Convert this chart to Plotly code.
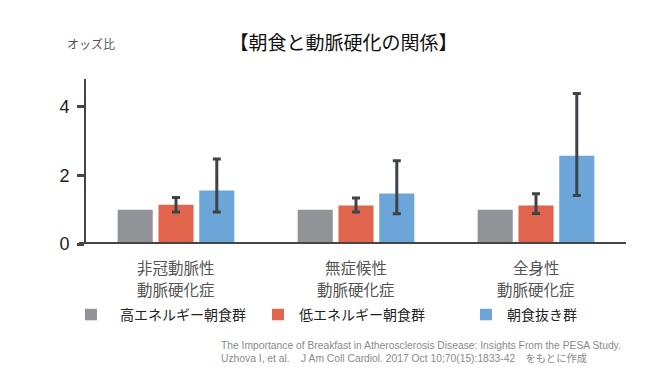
import plotly.graph_objects as go

# ---- data ----
categories = ["非冠動脈性<br>動脈硬化症", "無症候性<br>動脈硬化症", "全身性<br>動脈硬化症"]
series_names = ["高エネルギー朝食群", "低エネルギー朝食群", "朝食抜き群"]
high_energy = [1.0, 1.0, 1.0]
low_energy = [1.14, 1.12, 1.12]
low_energy_upper = [1.35, 1.34, 1.46]
low_energy_lower = [0.93, 0.93, 0.89]
skip = [1.56, 1.47, 2.57]
skip_upper = [2.47, 2.42, 4.38]
skip_lower = [0.93, 0.88, 1.41]
y_ticks = [0, 2, 4]

colors = ["#929396", "#e1644d", "#6ca5d8"]
err_color = "#3d4348"

W, H = 660, 382
L, R, T, B = 86, 34, 79, 137.5
PW, PH = W - L - R, H - T - B


def px_x(p):
    return (p - L) / PW


def px_y(q):
    return (H - B - q) / PH


fig = go.Figure()
fig.add_trace(go.Bar(x=categories, y=high_energy, name=series_names[0],
                     marker=dict(color=colors[0], line=dict(width=0)), showlegend=False))
fig.add_trace(go.Bar(x=categories, y=low_energy, name=series_names[1],
                     marker=dict(color=colors[1], line=dict(width=0)), showlegend=False,
                     error_y=dict(type="data", symmetric=False,
                                  array=[u - v for u, v in zip(low_energy_upper, low_energy)],
                                  arrayminus=[v - l for v, l in zip(low_energy, low_energy_lower)],
                                  color=err_color, thickness=3, width=4)))
fig.add_trace(go.Bar(x=categories, y=skip, name=series_names[2],
                     marker=dict(color=colors[2], line=dict(width=0)), showlegend=False,
                     error_y=dict(type="data", symmetric=False,
                                  array=[u - v for u, v in zip(skip_upper, skip)],
                                  arrayminus=[v - l for v, l in zip(skip, skip_lower)],
                                  color=err_color, thickness=3, width=4)))

annotations = [
    dict(text="オッズ比", xref="paper", yref="paper", x=px_x(90.5), y=px_y(43),
         xanchor="center", yanchor="middle", showarrow=False,
         font=dict(size=12, color="#555555", family="Noto Sans CJK JP")),
    dict(text="The Importance of Breakfast in Atherosclerosis Disease: Insights From the PESA Study.<br>"
              "Uzhova I, et al.\u00a0\u00a0\u00a0\u00a0J Am Coll Cardiol. 2017 Oct 10;70(15):1833-42\u3000をもとに作成",
         xref="paper", yref="paper", x=px_x(219), y=px_y(353), xanchor="left", yanchor="middle",
         align="left", showarrow=False,
         font=dict(size=10.3, color="#8a8a8a", family="Liberation Sans, Noto Sans CJK JP")),
]

# category labels, two lines each, placed under each category
for cat in categories:
    line1, line2 = cat.split("<br>")
    for txt, ypx in ((line1, 268), (line2, 290)):
        annotations.append(dict(text=txt, xref="x", yref="paper", x=cat, y=px_y(ypx),
                                xanchor="center", yanchor="middle", showarrow=False,
                                font=dict(size=15.5, color="#555555", family="Noto Sans CJK JP")))

shapes = [
    dict(type="line", xref="paper", yref="y", x0=px_x(79), x1=1.0, y0=0, y1=0,
         line=dict(color="#454545", width=4), layer="above"),
]

legend_sq = [(85, 97), (272, 284), (480, 492)]
legend_tx = [118, 297, 505]
for i, name in enumerate(series_names):
    x0, x1 = legend_sq[i]
    shapes.append(dict(type="rect", xref="paper", yref="paper",
                       x0=px_x(x0), x1=px_x(x1), y0=px_y(321), y1=px_y(309.5),
                       fillcolor=colors[i], line=dict(width=0)))
    annotations.append(dict(text=name, xref="paper", yref="paper", x=px_x(legend_tx[i]), y=px_y(315),
                            xanchor="left", yanchor="middle", showarrow=False,
                            font=dict(size=14, color="#222222", family="Noto Sans CJK JP")))

fig.update_layout(
    width=W, height=H,
    margin=dict(l=L, r=R, t=T, b=B, pad=0),
    paper_bgcolor="white", plot_bgcolor="white",
    barmode="group", bargap=0.32, bargroupgap=0.14,
    title=dict(text="【朝食と動脈硬化の関係】", x=343.5 / W, y=1 - 43 / H,
               xref="container", yref="container", xanchor="center", yanchor="middle",
               font=dict(size=19, color="#111111", family="Noto Sans CJK JP")),
    xaxis=dict(range=[-0.5, 2.5], showline=False, showgrid=False, zeroline=False,
               ticks="", showticklabels=False),
    yaxis=dict(range=[0, 4.8], tickvals=y_ticks, ticktext=[str(v) for v in y_ticks],
               showline=True, linewidth=2, linecolor="#454545", showgrid=False, zeroline=False,
               ticks="outside", ticklen=7, tickwidth=2.5, tickcolor="#454545",
               tickfont=dict(size=18, color="#222222", family="Liberation Sans, Arial"),
               ticklabelstandoff=4),
    annotations=annotations,
    shapes=shapes,
    showlegend=False,
)

fig.write_html("out.html", config={"displayModeBar": False},
               post_script="document.body.style.margin='0';")
